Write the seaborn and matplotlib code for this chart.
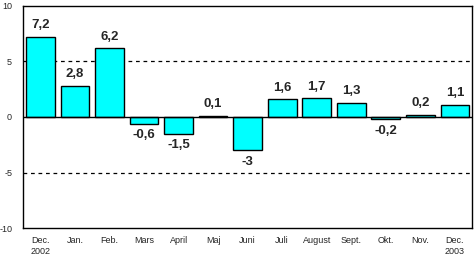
import matplotlib
matplotlib.use("Agg")
import matplotlib.pyplot as plt
import seaborn as sns
import pandas as pd

months = ["Dec.\n2002", "Jan.", "Feb.", "Mars", "April", "Maj", "Juni",
          "Juli", "August", "Sept.", "Okt.", "Nov.", "Dec.\n2003"]
values = [7.2, 2.8, 6.2, -0.6, -1.5, 0.1, -3, 1.6, 1.7, 1.3, -0.2, 0.2, 1.1]
labels = ["7,2", "2,8", "6,2", "-0,6", "-1,5", "0,1", "-3", "1,6", "1,7", "1,3", "-0,2", "0,2", "1,1"]
yticks = [-10, -5, 0, 5, 10]

sns.set_style("white")
plt.rcParams['font.family'] = ['Liberation Sans', 'DejaVu Sans']

df = pd.DataFrame({"month": months, "value": values})
fig = plt.figure(figsize=(4.74, 2.56), dpi=100)
ax = fig.add_axes([0.049, 0.109, 0.947, 0.868])
sns.barplot(data=df, x="month", y="value", color="#00FFFF", saturation=1,
            width=0.83, edgecolor="black", linewidth=1.0, ax=ax)
ax.set_ylim(-10, 10)
ax.set_xlim(-0.5, len(months) - 0.5)
ax.set_yticks(yticks)
ax.set_yticklabels([str(t) for t in yticks], fontsize=6.5)
ax.tick_params(axis='x', labelsize=6.5, length=0, pad=6)
ax.tick_params(axis='y', length=0, pad=8)
for yv in (5, -5):
    ax.axhline(yv, color="black", linestyle=(0, (3, 3)), linewidth=0.9, zorder=0)
ax.axhline(0, color="black", linewidth=1.0, zorder=3)
for s in ax.spines.values():
    s.set_color("black")
    s.set_linewidth(1.0)
ax.set_xlabel("")
ax.set_ylabel("")
for i, (v, lab) in enumerate(zip(values, labels)):
    if v >= 0:
        ax.annotate(lab, (i, v), xytext=(0, 4), textcoords="offset points",
                    ha="center", va="bottom", fontsize=9.5, fontweight="bold")
    else:
        ax.annotate(lab, (i, v), xytext=(0, -4), textcoords="offset points",
                    ha="center", va="top", fontsize=9.5, fontweight="bold")
fig.savefig("out.png", dpi=100)
